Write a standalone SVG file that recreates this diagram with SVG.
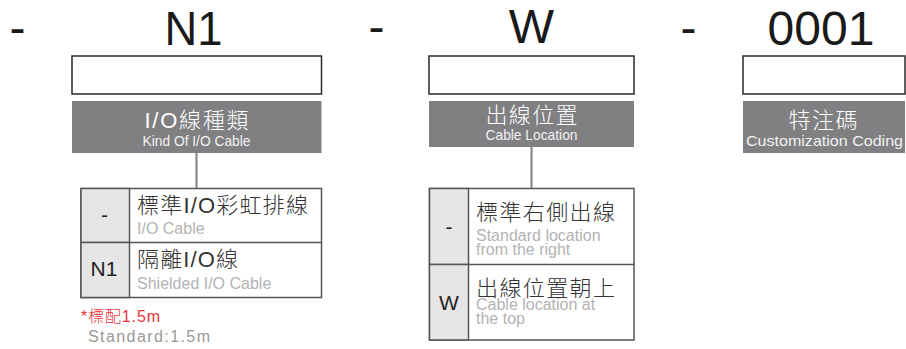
<svg xmlns="http://www.w3.org/2000/svg" width="906" height="349" viewBox="0 0 906 349">
<style>
.big{font-family:"Liberation Sans","Noto Sans",sans-serif;font-size:48px;fill:#1a1a1a}
.box{fill:#fff;stroke:#2a2a2a;stroke-width:1.5}
.ban{fill:#808082}
.bt{font-family:"Liberation Sans","Noto Sans CJK TC",sans-serif;font-size:22px;font-weight:300;fill:#fff;text-anchor:middle}
.bs{font-family:"Liberation Sans","Noto Sans",sans-serif;font-size:15px;fill:#f2f2f2;text-anchor:middle}
.tb{fill:#fff;stroke:#555;stroke-width:1.5}
.key{fill:#e6e6e7;stroke:#555;stroke-width:1.5}
.kt{font-family:"Liberation Sans","Noto Sans",sans-serif;font-size:21px;fill:#222;text-anchor:middle}
.ct{font-family:"Liberation Sans","Noto Sans CJK TC",sans-serif;font-size:22px;font-weight:300;fill:#333}
.st{font-family:"Liberation Sans","Noto Sans",sans-serif;font-size:16px;fill:#b3b3b3}
.ln{stroke:#8a8a8a;stroke-width:2.2;fill:none}
</style>
<g id="connectors">
<line class="ln" x1="196.5" y1="153" x2="196.5" y2="188"/>
<line class="ln" x1="531.5" y1="147" x2="531.5" y2="188"/>
</g>
<g id="dashes">
<text class="big" x="9.5" y="44">-</text>
<text class="big" x="368.5" y="43">-</text>
<text class="big" x="680.5" y="44">-</text>
</g>
<g id="n1-header">
<text class="big" x="193.5" y="45" text-anchor="middle" textLength="58" lengthAdjust="spacingAndGlyphs">N1</text>
<rect class="box" x="72" y="56" width="249.5" height="38"/>
<rect class="ban" x="72" y="101" width="249.5" height="52"/>
<text class="bt" x="196.5" y="128" textLength="104">I/O線種類</text>
<text class="bs" x="196.5" y="146" textLength="108" lengthAdjust="spacingAndGlyphs">Kind Of I/O Cable</text>
</g>
<g id="w-header">
<text class="big" x="531.5" y="43" text-anchor="middle" font-size="46">W</text>
<rect class="box" x="429" y="56" width="205" height="38"/>
<rect class="ban" x="429" y="101" width="205" height="46"/>
<text class="bt" x="531.5" y="123" textLength="92">出線位置</text>
<text class="bs" x="531.5" y="140" textLength="92" lengthAdjust="spacingAndGlyphs">Cable Location</text>
</g>
<g id="code-header">
<text class="big" x="821" y="45" text-anchor="middle">0001</text>
<rect class="box" x="743" y="56" width="162" height="38"/>
<rect class="ban" x="743" y="101" width="162" height="52"/>
<text class="bt" x="823" y="128" textLength="69">特注碼</text>
<text class="bs" x="824.5" y="146" textLength="157" lengthAdjust="spacingAndGlyphs">Customization Coding</text>
</g>
<g id="n1-table">
<rect class="tb" x="81" y="188.5" width="240.5" height="109"/>
<rect class="key" x="81" y="188.5" width="48.5" height="54"/>
<rect class="key" x="81" y="242.5" width="48.5" height="55"/>
<line x1="129.5" y1="242.5" x2="321.5" y2="242.5" stroke="#555" stroke-width="1.5"/>
<text class="kt" x="104.5" y="222">-</text>
<text class="kt" x="104" y="276">N1</text>
<text class="ct" x="137" y="213" textLength="171">標準I/O彩虹排線</text>
<text class="st" x="137" y="234">I/O Cable</text>
<text class="ct" x="137" y="267" textLength="101">隔離I/O線</text>
<text class="st" x="137" y="289">Shielded I/O Cable</text>
<text x="81" y="322" font-family="Liberation Sans,Noto Sans CJK TC,sans-serif" font-size="16" font-weight="300" fill="#e8333a" textLength="79">*標配1.5m</text>
<text x="88" y="342" font-family="Liberation Sans,Noto Sans,sans-serif" font-size="16" fill="#999" textLength="122">Standard:1.5m</text>
</g>
<g id="w-table">
<rect class="tb" x="429.5" y="188.5" width="204.5" height="151.5"/>
<rect class="key" x="429.5" y="188.5" width="39" height="76"/>
<rect class="key" x="429.5" y="264.5" width="39" height="75.5"/>
<line x1="468.5" y1="264.5" x2="634" y2="264.5" stroke="#555" stroke-width="1.5"/>
<text class="kt" x="449" y="234">-</text>
<text class="kt" x="449" y="310">W</text>
<text class="ct" x="476" y="220" textLength="139">標準右側出線</text>
<text class="st" x="476" y="241">Standard location</text>
<text class="st" x="476" y="255">from the right</text>
<text class="ct" x="476" y="296" textLength="139">出線位置朝上</text>
<text class="st" x="476" y="310">Cable location at</text>
<text class="st" x="476" y="324">the top</text>
</g>
</svg>
